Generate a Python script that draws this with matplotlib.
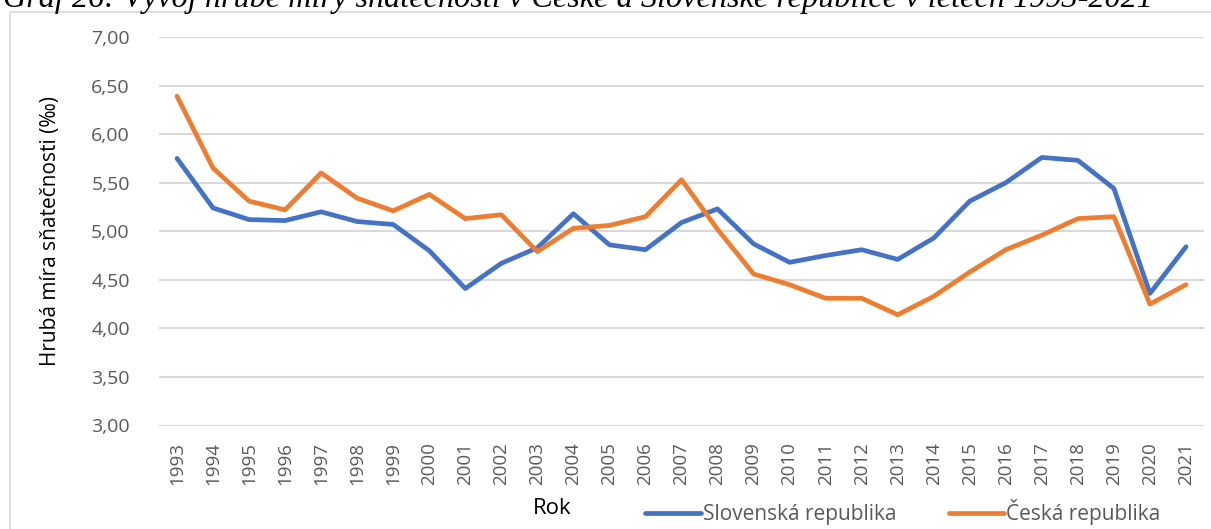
import matplotlib
matplotlib.use("Agg")
import matplotlib.pyplot as plt
from matplotlib.patches import Rectangle
from matplotlib.ticker import FuncFormatter, MultipleLocator

years = list(range(1993, 2022))
slovakia = [5.75, 5.24, 5.12, 5.11, 5.20, 5.10, 5.07, 4.80, 4.41, 4.67,
            4.83, 5.18, 4.86, 4.81, 5.09, 5.23, 4.87, 4.68, 4.75, 4.81,
            4.71, 4.93, 5.31, 5.50, 5.76, 5.73, 5.44, 4.36, 4.84]
czech = [6.39, 5.65, 5.31, 5.22, 5.60, 5.34, 5.21, 5.38, 5.13, 5.17,
         4.79, 5.03, 5.06, 5.15, 5.53, 5.02, 4.56, 4.45, 4.31, 4.31,
         4.14, 4.33, 4.58, 4.81, 4.96, 5.13, 5.15, 4.25, 4.45]

W, H = 1211, 529
BLUE = "#4472C4"
ORANGE = "#ED7D31"
GRID = "#D9D9D9"
TICK = "#595959"

plt.rcParams["font.family"] = ["Open Sans", "DejaVu Sans"]

fig = plt.figure(figsize=(W / 100, H / 100), dpi=100)

# chart frame (partly outside the picture)
fig.patches.append(Rectangle((9.5 / W, -0.1), 1.2, 1 - 11.5 / H + 0.1,
                             transform=fig.transFigure, fill=False,
                             edgecolor=GRID, linewidth=1.2))

# caption, cut off at the top like in the source
fig.text(3 / W, 1 - 7 / H,
         "Graf 26: Vývoj hrubé míry sňatečnosti v České a Slovenské republice v letech 1993-2021",
         family=["Liberation Serif", "DejaVu Serif"], style="italic",
         fontsize=23.2, va="baseline", ha="left", color="black")

ax = fig.add_axes([159 / W, 103.5 / H, 1045 / W, (425.5 - 37) / H])
x = range(len(years))
ax.plot(x, slovakia, color=BLUE, linewidth=3.4, solid_joinstyle="round",
        solid_capstyle="round", label="Slovenská republika", zorder=3)
ax.plot(x, czech, color=ORANGE, linewidth=3.4, solid_joinstyle="round",
        solid_capstyle="round", label="Česká republika", zorder=3)

ax.set_xlim(-0.5, len(years) - 0.5)
ax.set_ylim(3.0, 7.0)
ax.yaxis.set_major_locator(MultipleLocator(0.5))
ax.yaxis.set_major_formatter(FuncFormatter(lambda v, _: f"{v:.2f}".replace(".", ",")))
ax.set_xticks(list(x))
ax.set_xticklabels([str(y) for y in years], rotation=90)

ax.grid(axis="y", color=GRID, linewidth=1.5)
ax.set_axisbelow(True)
for s in ax.spines.values():
    s.set_visible(False)
ax.tick_params(axis="both", length=0, colors=TICK)
ax.tick_params(axis="y", labelsize=14, pad=21)
ax.tick_params(axis="x", labelsize=13.5, pad=12)

ax.set_ylabel("Hrubá míra sňatečnosti (‰)", fontsize=15, color="black", labelpad=22)
fig.text(552 / W, 1 - 508 / H, "Rok", fontsize=16, ha="center", va="center", color="black")

fig.legend(loc="center", bbox_to_anchor=(903 / W, 1 - 512 / H), ncol=2, frameon=False,
           fontsize=15, handlelength=2.65, handletextpad=0.12, columnspacing=2.5,
           labelcolor=TICK, borderpad=0)

fig.savefig("out.png", dpi=100)
